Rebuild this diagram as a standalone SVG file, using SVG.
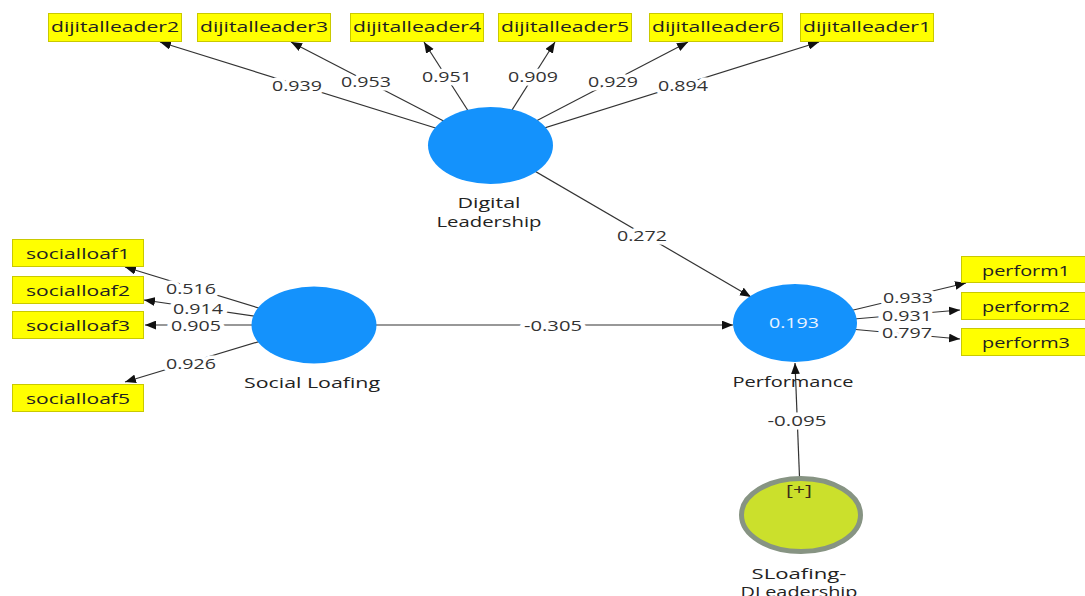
<svg xmlns="http://www.w3.org/2000/svg" width="1085" height="596" viewBox="0 0 1085 596">
<style>
text{font-family:"Open Sans","Noto Sans","DejaVu Sans",sans-serif;font-size:15px;fill:#222;}
.ind{fill:#ffff00;stroke:#c9c900;stroke-width:1;}
.lv{fill:#1492fc;}
.mod{fill:#cbe02c;stroke:#879483;stroke-width:5;}
.edge{stroke:#333;stroke-width:1.2;fill:none;marker-end:url(#arr);}
.lbl{text-anchor:middle;fill:#333;stroke:#fff;stroke-width:7;stroke-linejoin:round;paint-order:stroke;}
.t{text-anchor:middle;}
.in{text-anchor:middle;fill:#eaf4ff;}
</style>
<defs>
<marker id="arr" viewBox="0 0 10 8" refX="10" refY="4" markerWidth="11" markerHeight="9" orient="auto" markerUnits="userSpaceOnUse">
<path d="M0,0 L10,4 L0,8 z" fill="#111"/>
</marker>
</defs>
<g id="connectors">
<line class="edge" x1="490" y1="145" x2="160" y2="42"/>
<line class="edge" x1="490" y1="145" x2="291" y2="42"/>
<line class="edge" x1="490" y1="145" x2="424" y2="42"/>
<line class="edge" x1="490" y1="145" x2="555" y2="42"/>
<line class="edge" x1="490" y1="145" x2="688" y2="42"/>
<line class="edge" x1="490" y1="145" x2="819" y2="42"/>
<line class="edge" x1="314" y1="325" x2="125" y2="267"/>
<line class="edge" x1="314" y1="325" x2="144" y2="300"/>
<line class="edge" x1="314" y1="325" x2="145" y2="325"/>
<line class="edge" x1="314" y1="325" x2="125" y2="382"/>
<line class="edge" x1="795" y1="324" x2="966" y2="283"/>
<line class="edge" x1="795" y1="324" x2="960" y2="310"/>
<line class="edge" x1="795" y1="324" x2="960" y2="339"/>
<line class="edge" x1="490" y1="145" x2="751" y2="297"/>
<line class="edge" x1="376" y1="325" x2="733" y2="325"/>
<line class="edge" x1="801" y1="515" x2="795" y2="363"/>
<text class="lbl" x="297" y="90.5" textLength="50" lengthAdjust="spacingAndGlyphs">0.939</text>
<text class="lbl" x="366" y="86.5" textLength="50" lengthAdjust="spacingAndGlyphs">0.953</text>
<text class="lbl" x="447" y="81.5" textLength="50" lengthAdjust="spacingAndGlyphs">0.951</text>
<text class="lbl" x="533" y="81.5" textLength="50" lengthAdjust="spacingAndGlyphs">0.909</text>
<text class="lbl" x="613" y="86.5" textLength="50" lengthAdjust="spacingAndGlyphs">0.929</text>
<text class="lbl" x="683" y="90.5" textLength="50" lengthAdjust="spacingAndGlyphs">0.894</text>
<text class="lbl" x="191" y="293.5" textLength="50" lengthAdjust="spacingAndGlyphs">0.516</text>
<text class="lbl" x="198" y="314" textLength="50" lengthAdjust="spacingAndGlyphs">0.914</text>
<text class="lbl" x="196" y="331" textLength="50" lengthAdjust="spacingAndGlyphs">0.905</text>
<text class="lbl" x="191" y="368.5" textLength="50" lengthAdjust="spacingAndGlyphs">0.926</text>
<text class="lbl" x="908" y="303" textLength="50" lengthAdjust="spacingAndGlyphs">0.933</text>
<text class="lbl" x="907" y="321" textLength="50" lengthAdjust="spacingAndGlyphs">0.931</text>
<text class="lbl" x="907" y="338" textLength="50" lengthAdjust="spacingAndGlyphs">0.797</text>
<text class="lbl" x="642" y="240.5" textLength="50" lengthAdjust="spacingAndGlyphs">0.272</text>
<text class="lbl" x="553" y="330.5" textLength="58" lengthAdjust="spacingAndGlyphs">-0.305</text>
<text class="lbl" x="797" y="425.5" textLength="59" lengthAdjust="spacingAndGlyphs">-0.095</text>
</g>
<g id="dijitalleader2"><rect class="ind" x="48.5" y="13.5" width="133" height="28"/><text class="t" x="115" y="32" textLength="128" lengthAdjust="spacingAndGlyphs">dijitalleader2</text></g>
<g id="dijitalleader3"><rect class="ind" x="197.5" y="13.5" width="133" height="28"/><text class="t" x="264" y="32" textLength="128" lengthAdjust="spacingAndGlyphs">dijitalleader3</text></g>
<g id="dijitalleader4"><rect class="ind" x="350.5" y="13.5" width="133" height="28"/><text class="t" x="417" y="32" textLength="128" lengthAdjust="spacingAndGlyphs">dijitalleader4</text></g>
<g id="dijitalleader5"><rect class="ind" x="498.5" y="13.5" width="133" height="28"/><text class="t" x="565" y="32" textLength="128" lengthAdjust="spacingAndGlyphs">dijitalleader5</text></g>
<g id="dijitalleader6"><rect class="ind" x="649.5" y="13.5" width="133" height="28"/><text class="t" x="716" y="32" textLength="128" lengthAdjust="spacingAndGlyphs">dijitalleader6</text></g>
<g id="dijitalleader1"><rect class="ind" x="800.5" y="13.5" width="133" height="28"/><text class="t" x="867" y="32" textLength="128" lengthAdjust="spacingAndGlyphs">dijitalleader1</text></g>
<g id="socialloaf1"><rect class="ind" x="12.5" y="239.5" width="131" height="27"/><text class="t" x="78" y="258.5" textLength="104" lengthAdjust="spacingAndGlyphs">socialloaf1</text></g>
<g id="socialloaf2"><rect class="ind" x="12.5" y="276.5" width="131" height="27"/><text class="t" x="78" y="295.5" textLength="104" lengthAdjust="spacingAndGlyphs">socialloaf2</text></g>
<g id="socialloaf3"><rect class="ind" x="12.5" y="311.5" width="131" height="27"/><text class="t" x="78" y="330.5" textLength="104" lengthAdjust="spacingAndGlyphs">socialloaf3</text></g>
<g id="socialloaf5"><rect class="ind" x="12.5" y="384.5" width="131" height="27"/><text class="t" x="78" y="403.5" textLength="104" lengthAdjust="spacingAndGlyphs">socialloaf5</text></g>
<g id="perform1"><rect class="ind" x="961.5" y="256.5" width="130" height="26"/><text class="t" x="1026" y="275.5" textLength="88" lengthAdjust="spacingAndGlyphs">perform1</text></g>
<g id="perform2"><rect class="ind" x="961.5" y="292.5" width="130" height="27"/><text class="t" x="1026" y="311.5" textLength="88" lengthAdjust="spacingAndGlyphs">perform2</text></g>
<g id="perform3"><rect class="ind" x="961.5" y="328.5" width="130" height="27"/><text class="t" x="1026" y="347.5" textLength="88" lengthAdjust="spacingAndGlyphs">perform3</text></g>
<g id="digital-leadership"><ellipse class="lv" cx="490.5" cy="145.5" rx="62.5" ry="38.5"/><text class="t" x="489" y="208" textLength="63" lengthAdjust="spacingAndGlyphs">Digital</text><text class="t" x="489" y="227" textLength="105" lengthAdjust="spacingAndGlyphs">Leadership</text></g>
<g id="social-loafing"><ellipse class="lv" cx="314" cy="325" rx="62.5" ry="38.5"/><text class="t" x="312" y="388" textLength="136" lengthAdjust="spacingAndGlyphs">Social Loafing</text></g>
<g id="performance"><ellipse class="lv" cx="795" cy="323" rx="62" ry="39"/><text class="in" x="794" y="328" textLength="50" lengthAdjust="spacingAndGlyphs">0.193</text><text class="t" x="793" y="387" textLength="121" lengthAdjust="spacingAndGlyphs">Performance</text></g>
<g id="sloafing-dleadership"><ellipse class="mod" cx="801" cy="515" rx="59.5" ry="36.5"/><text class="t" x="799" y="495" textLength="26" lengthAdjust="spacingAndGlyphs" style="fill:#3a2c18">[+]</text><text class="t" x="799" y="579" textLength="95" lengthAdjust="spacingAndGlyphs">SLoafing-</text><text class="t" x="799" y="597" textLength="117" lengthAdjust="spacingAndGlyphs">DLeadership</text></g>
</svg>
